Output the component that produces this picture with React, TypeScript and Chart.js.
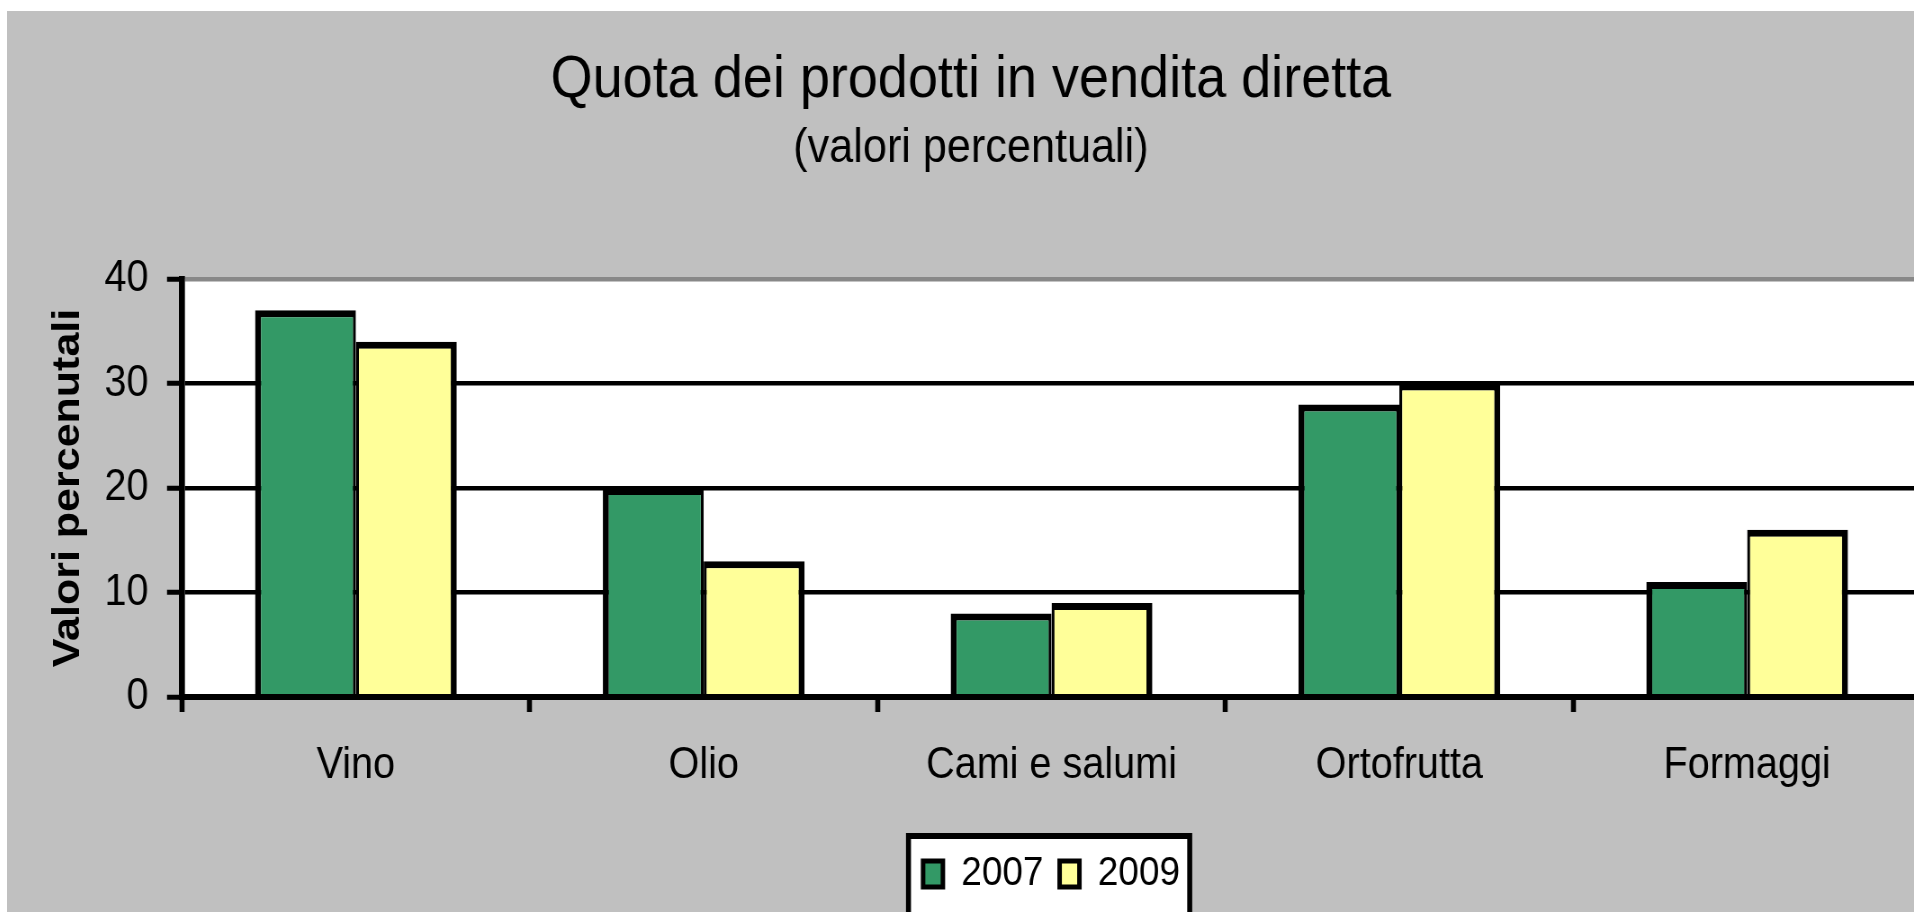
import React, { useEffect, useRef } from 'react';
import { Chart, registerables } from 'chart.js';

Chart.register(...registerables);

// ---- data ----
const categories = ['Vino', 'Olio', 'Cami e salumi', 'Ortofrutta', 'Formaggi'];
const seriesLabels = ['2007', '2009'];
const values2007 = [37, 20, 8, 28, 11];
const values2009 = [34, 13, 9, 30, 16];
const yTicks = [0, 10, 20, 30, 40];
const titleText = 'Quota dei prodotti in vendita diretta';
const subtitleText = '(valori percentuali)';
const yAxisTitle = 'Valori percenutali';

// ---- layout / style ----
const SX = 0.9; // horizontal squeeze of the reference picture
const u = (px: number) => px / SX;
const W = 2142;
const H = 901;
const FONT = '"Liberation Sans", Arial, Helvetica, sans-serif';
const GREEN = '#339966';
const YELLOW = '#FFFF99';
const GRAY_BG = '#C0C0C0';
const GRID_TOP = '#888888';

const bgPlugin = {
  id: 'bgPlugin',
  beforeDraw(chart: any) {
    const { ctx, chartArea, width, height } = chart;
    ctx.save();
    ctx.fillStyle = GRAY_BG;
    ctx.fillRect(0, 0, width, height);
    ctx.fillStyle = '#FFFFFF';
    ctx.fillRect(chartArea.left, chartArea.top, chartArea.right - chartArea.left, chartArea.bottom - chartArea.top);
    const lg = chart.legend;
    if (lg) {
      const fw = 318;
      const cx = (chartArea.left + chartArea.right) / 2 - 2.7;
      const left = cx - fw / 2;
      const top = lg.top - 2.5;
      ctx.fillStyle = '#000';
      ctx.fillRect(left, top, fw, height - top + 20);
      ctx.fillStyle = '#FFFFFF';
      ctx.fillRect(left + u(5), top + 6, fw - 2 * u(5), height);
    }
    ctx.restore();
  },
};

export default function App() {
  const ref = useRef<HTMLCanvasElement>(null);

  useEffect(() => {
    if (!ref.current) return;
    const chart = new Chart(ref.current, {
      type: 'bar',
      data: {
        labels: categories,
        datasets: [
          {
            label: seriesLabels[0],
            data: values2007,
            backgroundColor: GREEN,
            borderColor: '#000',
            borderWidth: { top: 7, left: u(6), right: u(3), bottom: 0 },
            borderSkipped: false,
            categoryPercentage: 0.58,
            barPercentage: 1,
            yAxisID: 'y',
          },
          {
            label: seriesLabels[1],
            data: values2009,
            backgroundColor: YELLOW,
            borderColor: '#000',
            borderWidth: { top: 7, left: u(3), right: u(6), bottom: 0 },
            borderSkipped: false,
            categoryPercentage: 0.58,
            barPercentage: 1,
            yAxisID: 'y',
          },
        ],
      } as any,
      options: {
        responsive: false,
        maintainAspectRatio: false,
        devicePixelRatio: 1,
        animation: false,
        events: [],
        layout: { padding: { left: 0, right: 0, top: 0, bottom: 7.5 } },
        scales: {
          x: {
            type: 'category',
            offset: true,
            grid: {
              display: true,
              offset: true,
              drawOnChartArea: false,
              drawTicks: true,
              tickLength: 15,
              tickWidth: u(5),
              tickColor: '#000',
              color: '#000',
            },
            border: { display: true, color: '#000', width: 6, z: 1 },
            ticks: {
              color: '#000',
              font: { family: FONT, size: 44 },
              padding: 27,
              maxRotation: 0,
              autoSkip: false,
            },
            afterFit: (s: any) => {
              s.height = 138.5;
            },
          },
          y: {
            type: 'linear',
            position: 'left',
            min: 0,
            max: 40,
            afterBuildTicks: (s: any) => {
              s.ticks = yTicks.map((v) => ({ value: v }));
            },
            ticks: {
              color: '#000',
              font: { family: FONT, size: 44 },
              padding: 20.5,
            },
            grid: {
              color: (c: any) => (c.tick && c.tick.value === 40 ? GRID_TOP : '#000'),
              lineWidth: 4.5,
              drawTicks: true,
              tickLength: u(15),
              tickWidth: 5,
              tickColor: '#000',
            },
            border: { display: true, color: '#000', width: u(6), z: 1 },
            title: {
              display: true,
              text: yAxisTitle,
              color: '#000',
              font: { family: FONT, size: 43, weight: 'bold', lineHeight: 1 },
              padding: { top: 47, bottom: 0 },
            },
            afterFit: (s: any) => {
              s.width = u(182 - 7);
            },
          },
          y2: {
            type: 'linear',
            position: 'right',
            display: true,
            min: 0,
            max: 1,
            grid: { display: false, drawTicks: false },
            border: { display: false },
            ticks: { display: false },
            afterFit: (s: any) => {
              s.width = 15.3;
            },
          },
        },
        plugins: {
          title: {
            display: true,
            text: titleText,
            color: '#000',
            font: { family: FONT, size: 60, weight: 'normal', lineHeight: 1.2 },
            padding: { top: 33, bottom: 0 },
          },
          subtitle: {
            display: true,
            text: subtitleText,
            color: '#000',
            font: { family: FONT, size: 48, weight: 'normal', lineHeight: 1.2 },
            padding: { top: 4, bottom: 101.4 },
          },
          legend: {
            display: true,
            position: 'bottom',
            fullSize: false,
            align: 'center',
            labels: {
              color: '#000',
              font: { family: FONT, size: 41 },
              boxWidth: 22,
              boxHeight: 26,
              padding: 18,
              generateLabels: (ch: any) =>
                (Chart.defaults.plugins.legend.labels as any)
                  .generateLabels(ch)
                  .map((l: any) => ({ ...l, lineWidth: 5, strokeStyle: '#000' })),
            },
          },
          tooltip: { enabled: false },
        },
      } as any,
      plugins: [bgPlugin],
    });
    return () => chart.destroy();
  }, []);

  return (
    <div
      style={{
        position: 'fixed',
        left: 0,
        top: 0,
        width: '100vw',
        height: '100vh',
        overflow: 'hidden',
        background: '#FFFFFF',
      }}
    >
      <div
        style={{
          position: 'absolute',
          left: 7,
          top: 11,
          width: W,
          height: H,
          transform: `scaleX(${SX})`,
          transformOrigin: '0 0',
        }}
      >
        <canvas ref={ref} width={W} height={H} style={{ display: 'block', width: W, height: H }} />
      </div>
    </div>
  );
}
